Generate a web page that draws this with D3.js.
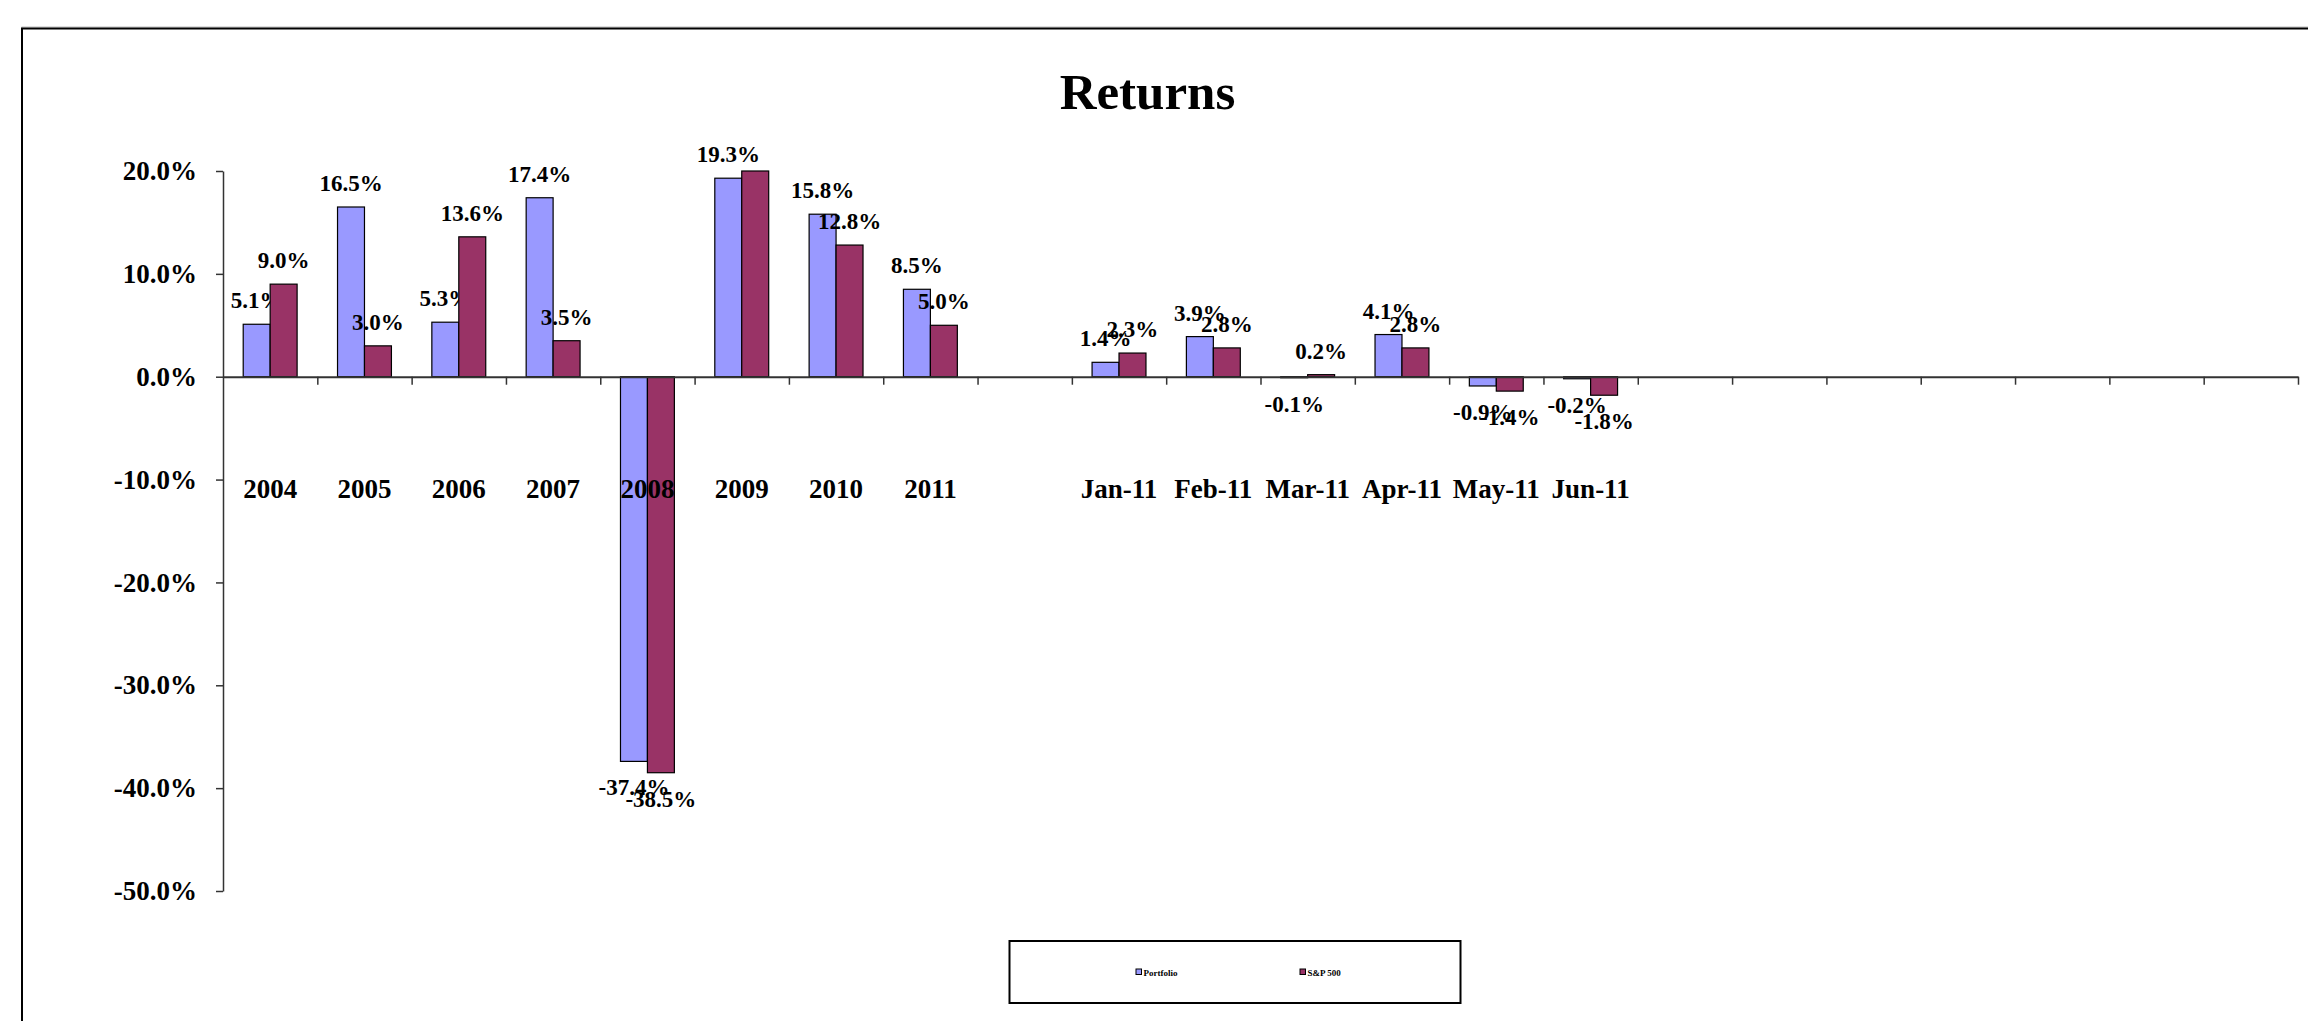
<!DOCTYPE html>
<html>
<head>
<meta charset="utf-8">
<script src="https://cdn.jsdelivr.net/npm/d3@7"></script>
<style>
  body { margin: 0; background: #fff; }
  svg { display: block; font-family: "Liberation Serif", "Times New Roman", serif; font-weight: bold; }
</style>
</head>
<body>
<svg width="2308" height="1021"></svg>
<script>
// categories (blank slots are empty Excel rows)
const categories = [
  "2004", "2005", "2006", "2007", "2008", "2009", "2010", "2011", "",
  "Jan-11", "Feb-11", "Mar-11", "Apr-11", "May-11", "Jun-11",
  "", "", "", "", "", "", ""
];
const seriesNames = ["Portfolio", "S&P 500"];
const portfolio = [5.1, 16.5, 5.3, 17.4, -37.4, 19.3, 15.8, 8.5, null, 1.4, 3.9, -0.1, 4.1, -0.9, -0.2];
const sp500 = [9.0, 3.0, 13.6, 3.5, -38.5, 23.5, 12.8, 5.0, null, 2.3, 2.8, 0.2, 2.8, -1.4, -1.8];
const yTicks = [20, 10, 0, -10, -20, -30, -40, -50];

const colors = ["#9999FF", "#993366"];
const values = [portfolio, sp500];

const svg = d3.select("svg");

// chart frame (runs past the window edges)
svg.append("rect")
  .attr("x", 22).attr("y", 27)
  .attr("width", 2400).attr("height", 1100)
  .attr("fill", "none").attr("stroke", "#bbb").attr("stroke-width", 1);
svg.append("rect")
  .attr("x", 22).attr("y", 28.5)
  .attr("width", 2400).attr("height", 1100)
  .attr("fill", "none").attr("stroke", "#000").attr("stroke-width", 2);

svg.append("text")
  .attr("x", 1147.5).attr("y", 109)
  .attr("text-anchor", "middle")
  .attr("font-size", 51)
  .text("Returns");

const plotLeft = 223, plotRight = 2298, plotTop = 171, plotBottom = 891;

const x = d3.scaleBand()
  .domain(d3.range(categories.length))
  .range([plotLeft, plotRight]);

// gap width 150%
const x1 = d3.scaleBand()
  .domain(seriesNames)
  .range([0, x.bandwidth()])
  .paddingInner(0)
  .paddingOuter(0.75);

const y = d3.scaleLinear()
  .domain([-50, 20])
  .range([plotBottom, plotTop])
  .clamp(true);

// y axis
const yAxis = svg.append("g")
  .attr("transform", `translate(${plotLeft},0)`)
  .call(d3.axisLeft(y)
    .tickValues(yTicks)
    .tickSize(7)
    .tickPadding(19)
    .tickSizeOuter(0)
    .tickFormat((d) => d.toFixed(1) + "%"));
yAxis.select(".domain").attr("stroke", "#333").attr("stroke-width", 1.5);
yAxis.selectAll(".tick line").attr("stroke", "#333").attr("stroke-width", 1.5);
yAxis.selectAll("text")
  .attr("fill", "#000")
  .attr("font-size", 27)
  .attr("font-family", "Liberation Serif")
  .attr("font-weight", "bold");

// bars
const groups = svg.append("g")
  .selectAll("g")
  .data(seriesNames)
  .enter()
  .append("g")
  .attr("fill", (d, i) => colors[i]);

groups.selectAll("rect")
  .data((name, si) => values[si].map((v, i) => ({ name, v, i })).filter((d) => d.v !== null))
  .enter()
  .append("rect")
  .attr("x", (d) => x(d.i) + x1(d.name))
  .attr("width", x1.bandwidth())
  .attr("y", (d) => y(Math.max(0, d.v)))
  .attr("height", (d) => Math.abs(y(d.v) - y(0)))
  .attr("stroke", "#000")
  .attr("stroke-width", 1.2);

// x axis at zero with ticks between categories
const xl = d3.scaleLinear().domain([0, categories.length]).range([plotLeft, plotRight]);
const xAxis = svg.append("g")
  .attr("transform", `translate(0,${y(0)})`)
  .call(d3.axisBottom(xl)
    .tickValues(d3.range(1, categories.length + 1))
    .tickSize(8)
    .tickSizeOuter(0)
    .tickFormat(""));
xAxis.select(".domain").attr("stroke", "#333").attr("stroke-width", 2);
xAxis.selectAll(".tick line").attr("stroke", "#333").attr("stroke-width", 1.5);

// category labels
const catAxis = svg.append("g")
  .attr("transform", `translate(0,${y(0)})`)
  .call(d3.axisBottom(x)
    .tickSize(0)
    .tickPadding(102)
    .tickFormat((i) => categories[i]));
catAxis.select(".domain").remove();
catAxis.selectAll("text")
  .attr("fill", "#000")
  .attr("font-size", 27)
  .attr("font-family", "Liberation Serif")
  .attr("font-weight", "bold");

// data labels
groups.selectAll("text")
  .data((name, si) => values[si].map((v, i) => ({ name, v, i }))
    .filter((d) => d.v !== null && d.v <= y.domain()[1]))
  .enter()
  .append("text")
  .attr("x", (d) => x(d.i) + x1(d.name) + x1.bandwidth() / 2)
  .attr("y", (d) => (d.v >= 0 ? y(d.v) - 16 : y(d.v) + 34))
  .attr("text-anchor", "middle")
  .attr("fill", "#000")
  .attr("font-size", 23)
  .text((d) => d.v.toFixed(1) + "%");

// legend
svg.append("rect")
  .attr("x", 1009.5).attr("y", 941)
  .attr("width", 451).attr("height", 62)
  .attr("fill", "#fff").attr("stroke", "#000").attr("stroke-width", 2);

const legend = svg.append("g")
  .selectAll("g")
  .data(seriesNames)
  .enter()
  .append("g")
  .attr("transform", (d, i) => `translate(${[1136, 1300][i]}, 969)`);

legend.append("rect")
  .attr("width", 5.5)
  .attr("height", 5.5)
  .attr("fill", (d, i) => colors[i])
  .attr("stroke", "#000")
  .attr("stroke-width", 1);

legend.append("text")
  .text((d) => d)
  .attr("x", 7.5)
  .attr("y", 6.5)
  .attr("font-size", 9)
  .attr("fill", "#000");
</script>
</body>
</html>
